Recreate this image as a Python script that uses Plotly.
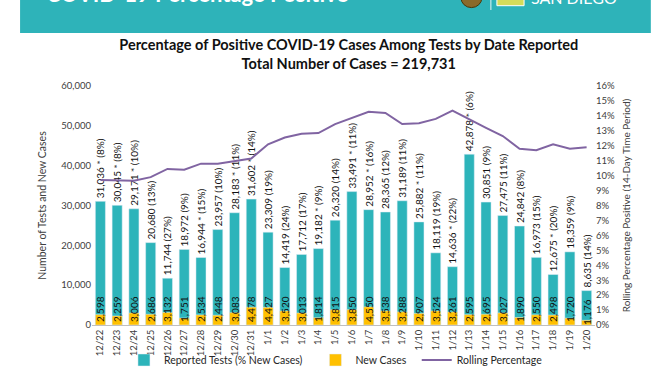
import plotly.graph_objects as go

dates = ["12/22", "12/23", "12/24", "12/25", "12/26", "12/27", "12/28", "12/29", "12/30", "12/31",
         "1/1", "1/2", "1/3", "1/4", "1/5", "1/6", "1/7", "1/8", "1/9", "1/10",
         "1/11", "1/12", "1/13", "1/14", "1/15", "1/16", "1/17", "1/18", "1/19", "1/20"]
tests = [31036, 30045, 29171, 20680, 11744, 18972, 16944, 23957, 28183, 31602,
         23309, 14419, 17712, 19182, 26320, 33491, 28952, 28365, 31189, 25882,
         18119, 14636, 42878, 30851, 27475, 24842, 16973, 12675, 18359, 8635]
test_labels = ["31,036 * (8%)", "30,045 * (8%)", "29,171 * (10%)", "20,680 (13%)", "11,744 (27%)",
               "18,972 (9%)", "16,944 * (15%)", "23,957 (10%)", "28,183 * (11%)", "31,602 * (14%)",
               "23,309 (19%)", "14,419 (24%)", "17,712 (17%)", "19,182 * (9%)", "26,320 (14%)",
               "33,491 * (11%)", "28,952 * (16%)", "28,365 (12%)", "31,189 (11%)", "25,882 * (11%)",
               "18,119 (19%)", "14,636 * (22%)", "42,878 * (6%)", "30,851 (9%)", "27,475 (11%)",
               "24,842 (8%)", "16,973 (15%)", "12,675 * (20%)", "18,359 (9%)", "8,635 (14%)"]
new_cases = [2598, 2259, 3006, 2686, 3132, 1751, 2534, 2448, 3083, 4478,
             4427, 3520, 3013, 1814, 3815, 3850, 4550, 3538, 3288, 2907,
             3524, 3261, 2595, 2695, 3027, 1890, 2550, 2498, 1720, 1176]
rolling_pct = [0.097, 0.097, 0.0965, 0.099, 0.1045, 0.104, 0.108, 0.108, 0.110, 0.1115,
               0.121, 0.1255, 0.128, 0.1285, 0.1345, 0.1385, 0.1427, 0.142, 0.1345, 0.135,
               0.138, 0.1435, 0.1375, 0.132, 0.1265, 0.118, 0.117, 0.121, 0.118, 0.119]
left_ticks = [0, 10000, 20000, 30000, 40000, 50000, 60000]

TEAL = "#2DB4BA"
GOLD = "#FFC000"
PURPLE = "#8064A2"
FONT = "Lato"
NB = "\u00a0"

fig = go.Figure()
fig.add_trace(go.Bar(
    x=dates, y=tests, name="Reported Tests (% New Cases)" + NB * 3, marker_color=TEAL,
    text=test_labels, textposition="outside", textangle=-90, constraintext="none",
    cliponaxis=False, textfont=dict(family=FONT, size=10, color="#111111"),
))
fig.add_trace(go.Bar(
    x=dates, y=new_cases, name="New Cases" + NB * 2, marker_color=GOLD,
    text=[f"{v:,}" for v in new_cases], textposition="inside", insidetextanchor="start",
    textangle=-90, constraintext="none", cliponaxis=False,
    textfont=dict(family=FONT, size=10, color="#111111"),
))
fig.add_trace(go.Scatter(
    x=dates, y=rolling_pct, name="Rolling Percentage", mode="lines", yaxis="y2",
    line=dict(color=PURPLE, width=2),
))

# header banner
fig.add_shape(type="rect", xref="paper", yref="paper", x0=-0.143, x1=1.111, y0=1.2218, y1=1.36,
              fillcolor="#2EB3B9", line_width=0, layer="below")
fig.add_annotation(xref="paper", yref="paper", x=-0.095, y=1.322, xanchor="left", yanchor="bottom",
                   text="<b>COVID-19 Percentage Positive</b>", showarrow=False,
                   font=dict(family=FONT, size=22, color="white"))
fig.add_shape(type="circle", xref="paper", yref="paper", x0=0.7336, x1=0.775, y0=1.328, y1=1.41,
              fillcolor="#8A6A2A", line=dict(color="#4A3608", width=1))
fig.add_shape(type="line", xref="paper", yref="paper", x0=0.793, x1=0.793, y0=1.318, y1=1.36,
              line=dict(color="#E8F6F6", width=1))
fig.add_shape(type="rect", xref="paper", yref="paper", x0=0.805, x1=0.859, y0=1.336, y1=1.37,
              fillcolor="#D4DC5A", line=dict(color="white", width=1))
fig.add_annotation(xref="paper", yref="paper", x=0.869, y=1.324, xanchor="left", yanchor="bottom",
                   text="SAN DIEGO", showarrow=False,
                   font=dict(family=FONT, size=16, color="white"))

fig.update_layout(
    width=672, height=372,
    margin=dict(l=92, r=77, t=86, b=47, autoexpand=False),
    paper_bgcolor="white", plot_bgcolor="white",
    barmode="overlay", bargap=0.4,
    font=dict(family=FONT, size=10, color="#404040"),
    title=dict(
        text="<b>Percentage of Positive COVID-19 Cases Among Tests by Date Reported<br>Total Number of Cases = 219,731</b>",
        x=0.519, xanchor="center", xref="container", y=0.866, yanchor="top", yref="container",
        font=dict(family=FONT, size=14.5, color="#111111"),
    ),
    xaxis=dict(tickangle=-90, showgrid=False, showline=True, linecolor="#BFBFBF", linewidth=1,
               tickfont=dict(size=9.5, color="#404040"), ticks="", automargin=False),
    yaxis=dict(range=[0, 60000], tickvals=left_ticks, tickformat=",", showgrid=False, zeroline=False,
               automargin=False,
               title=dict(text="Number of Tests and New Cases", font=dict(size=10.5, color="#404040"), standoff=12),
               tickfont=dict(size=9.5, color="#404040")),
    yaxis2=dict(range=[0, 0.16], dtick=0.01, tickformat=".0%", overlaying="y", side="right",
                showgrid=False, zeroline=False, automargin=False,
                title=dict(text="Rolling Percentage Positive (14-Day Time Period)", font=dict(size=10, color="#404040"), standoff=8),
                tickfont=dict(size=9.5, color="#404040")),
    legend=dict(orientation="h", x=0.485, xanchor="center", xref="paper",
                y=1 - 360 / 372, yanchor="middle", yref="container",
                font=dict(size=10.5, color="#262626"), traceorder="normal", bgcolor="rgba(0,0,0,0)"),
    showlegend=True,
)

fig.write_html("out.html", config={"displayModeBar": False},
               post_script="document.body.style.margin='0';document.body.style.padding='0';")
